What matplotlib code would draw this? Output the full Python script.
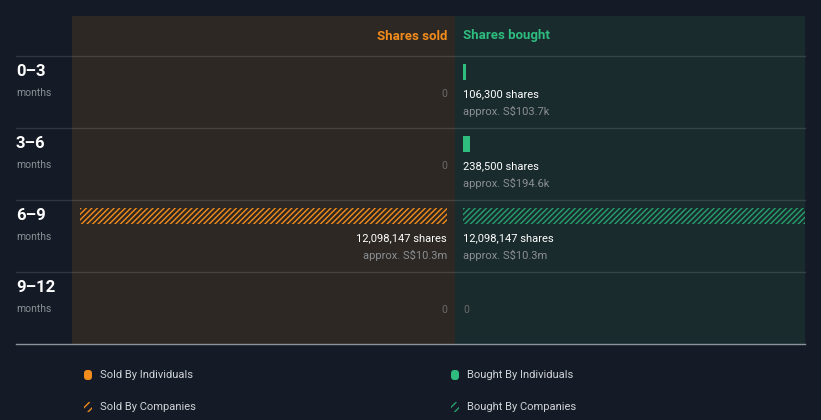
import matplotlib.pyplot as plt
from matplotlib.lines import Line2D
from matplotlib.patches import FancyBboxPatch

plt.rcParams['font.family'] = ['Roboto', 'DejaVu Sans']
plt.rcParams['hatch.linewidth'] = 1.0

# data
periods = ["0–3", "3–6", "6–9", "9–12"]
sold_individuals = [0, 0, 0, 0]
sold_companies = [0, 0, 12098147, 0]
bought_individuals = [106300, 238500, 0, 0]
bought_companies = [0, 0, 12098147, 0]
sold_value = ["", "", "S$10.3m", ""]
bought_value = ["S$103.7k", "S$194.6k", "S$10.3m", ""]

# colours
BG = "#151b26"
SOLD_BG = "#2d2823"
BOUGHT_BG = "#1a2b2e"
ORANGE = "#f28c1c"
GREEN = "#2ebd7f"
GREEN_HATCH = "#26a06c"
GREY = "#8b8f94"
DIM = "#6a6a6a"

W, H = 821, 420
fig = plt.figure(figsize=(W / 100, H / 100), dpi=100, facecolor=BG)

M = max(max(sold_individuals), max(sold_companies), max(bought_individuals), max(bought_companies))
bar_px = 367.0


def px_rect(x0, y0, x1, y1):
    return [x0 / W, 1 - y1 / H, (x1 - x0) / W, (y1 - y0) / H]


ax_s = fig.add_axes(px_rect(72, 16, 455, 344), facecolor=SOLD_BG)
ax_b = fig.add_axes(px_rect(455, 16, 805, 344), facecolor=BOUGHT_BG)
ax_s.set_xlim(375 / bar_px * M, -8 / bar_px * M)
ax_b.set_xlim(-8 / bar_px * M, 342 / bar_px * M)
for ax in (ax_s, ax_b):
    ax.set_ylim(4, -40 / 72)
    ax.set_xticks([])
    ax.set_yticks([])
    for sp in ax.spines.values():
        sp.set_visible(False)

ys = [i + 16 / 72 for i in range(len(periods))]
bh = 16 / 72

# sold side
ax_s.barh(ys, sold_individuals, height=bh, color=ORANGE, linewidth=0)
ax_s.barh(ys, sold_companies, height=bh, color="none", edgecolor=ORANGE, hatch="//////", linewidth=0)
# bought side
ax_b.barh(ys, bought_individuals, height=bh, color=GREEN, linewidth=0)
ax_b.barh(ys, bought_companies, height=bh, color="none", edgecolor=GREEN_HATCH, hatch="//////", linewidth=0)

ax_s.text(0, -20 / 72, "Shares sold", color=ORANGE, fontsize=9.5, fontweight="bold",
          ha="right", va="center")
ax_b.text(0, -20 / 72, "Shares bought", color=GREEN, fontsize=9.5, fontweight="bold",
          ha="left", va="center")

for i in range(len(periods)):
    s = sold_individuals[i] + sold_companies[i]
    b = bought_individuals[i] + bought_companies[i]
    if s:
        ax_s.text(0, i + 38 / 72, f"{s:,} shares", color="white", fontsize=8, ha="right", va="center")
        ax_s.text(0, i + 55 / 72, f"approx. {sold_value[i]}", color=GREY, fontsize=8, ha="right", va="center")
    else:
        ax_s.text(0, i + 38 / 72, "0", color=DIM, fontsize=7.5, ha="right", va="center")
    if b:
        ax_b.text(0, i + 38 / 72, f"{b:,} shares", color="white", fontsize=8, ha="left", va="center")
        ax_b.text(0, i + 55 / 72, f"approx. {bought_value[i]}", color=GREY, fontsize=8, ha="left", va="center")
    else:
        ax_b.text(0, i + 38 / 72, "0", color=DIM, fontsize=7.5, ha="left", va="center")

# row labels and separators
for i, p in enumerate(periods):
    top = 56 + 72 * i
    fig.text(16 / W, 1 - (top + 15.5) / H, p, color="white", fontsize=12, fontweight="bold",
             ha="left", va="center")
    fig.text(16 / W, 1 - (top + 37) / H, "months", color=GREY, fontsize=7.5, ha="left", va="center")
    fig.add_artist(Line2D([16 / W, 805 / W], [1 - top / H] * 2, color="white", alpha=0.12, lw=1))
fig.add_artist(Line2D([16 / W, 805 / W], [1 - 343.5 / H] * 2, color="#8a949a", lw=1))

# legend
ax_l = fig.add_axes([0, 0, 1, 1 - 350 / H])
ax_l.set_xlim(0, W)
ax_l.set_ylim(H, 350)
ax_l.axis("off")
legend_items = [
    (88, 375, "Sold By Individuals", ORANGE, None),
    (455, 375, "Bought By Individuals", GREEN, None),
    (88, 407, "Sold By Companies", ORANGE, "////"),
    (455, 407, "Bought By Companies", GREEN_HATCH, "////"),
]
for x, y, label, c, hatch in legend_items:
    if hatch is None:
        ax_l.add_patch(FancyBboxPatch((x - 4, y - 5), 8, 10, boxstyle="round,pad=0,rounding_size=3.5",
                                      facecolor=c, edgecolor="none"))
    else:
        ax_l.add_patch(FancyBboxPatch((x - 4, y - 5), 8, 10, boxstyle="round,pad=0,rounding_size=3.5",
                                      facecolor="none", edgecolor=c, hatch=hatch, linewidth=0))
    ax_l.text(x + 12, y, label, color="#d0d3d6", fontsize=8, ha="left", va="center")

fig.savefig("out.png", dpi=100, facecolor=BG)
